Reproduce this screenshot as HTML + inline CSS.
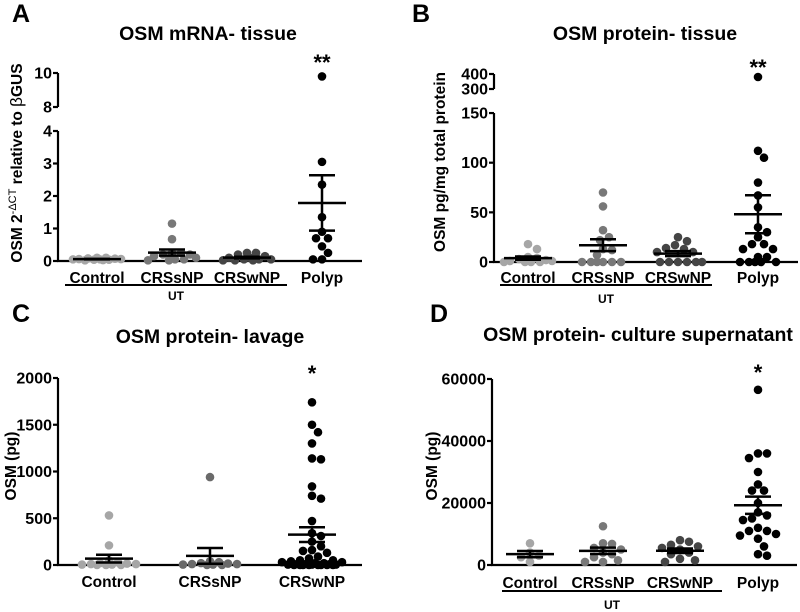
<!DOCTYPE html>
<html><head><meta charset="utf-8">
<style>
html,body{margin:0;padding:0;background:#fff;}
svg{display:block;font-family:"Liberation Sans",Arial,sans-serif;font-weight:bold;}
</style></head>
<body>
<svg id="fig" width="800" height="612" viewBox="0 0 800 612" xmlns="http://www.w3.org/2000/svg"></svg>
<script>
// ---------- data ----------
const catsABD = ["Control","CRSsNP","CRSwNP","Polyp"];
const catsC = ["Control","CRSsNP","CRSwNP"];
const colorsABD = ["#a6a6a6","#787878","#454545","#000000"];
const colorsC = ["#a6a6a6","#6a6a6a","#000000"];

const aControl = [0.1,0.08,0.07,0.06,0.05,0.05,0.04,0.04,0.03,0.1,0.06,0.02];
const aCRSsNP = [1.15,0.67,0.25,0.25,0.2,0.2,0.15,0.1,0.05,0.05,0.02,0.02];
const aCRSwNP = [0.25,0.25,0.2,0.15,0.1,0.1,0.05,0.05,0.05,0.02,0.02,0.02];
const aPolyp = [9.8,3.05,2.35,1.35,0.9,0.7,0.7,0.45,0.25,0.05,0.05];
const aTicksLow = [0,1,2,3,4];
const aTicksHigh = [8,10];

const bControl = [18,13,5,4,3,2,1,1,0,0,0,0];
const bCRSsNP = [70,56,32,25,22,13,12,7,0,0,0,0,0,0];
const bCRSwNP = [25,21,17,14,13,10,10,0,0,0,0,0,0];
const bPolyp = [380,112,105,80,67,55,35,30,25,18,18,13,13,5,5,0,0,0,0,0];
const bTicksLow = [0,50,100,150];
const bTicksHigh = [300,400];

const cControl = [530,210,50,30,20,15,10,10,5,5,0,0,0];
const cCRSsNP = [940,40,30,20,15,10,10,5,5,0,0];
const cCRSwNP = [1740,1500,1420,1300,1140,1130,840,740,710,470,340,310,250,200,160,150,130,90,70,50,50,40,30,30,20,20,10,10,10,5,5,5,0,0,0,0,0,0,0,0];
const cTicks = [0,500,1000,1500,2000];

const dControl = [7000,4000,3000,2500,1000];
const dCRSsNP = [12500,7000,6800,5500,5000,4000,3500,2500,1500,1000,1000];
const dCRSwNP = [8000,7500,6500,6000,5500,5000,4000,3500,2000,1500,1000];
const dPolyp = [56500,36000,36000,34500,30000,26000,24000,24000,20000,17000,16000,15000,14500,12000,11000,11000,10000,9500,8500,6000,3500,3000];
const dTicks = [0,20000,40000,60000];

// ---------- drawing ----------
const NS = "http://www.w3.org/2000/svg";
const svg = document.getElementById("fig");
function mk(tag, attrs, parent){
  const e = document.createElementNS(NS, tag);
  for (const k in attrs) e.setAttribute(k, attrs[k]);
  (parent||svg).appendChild(e);
  return e;
}
function line(g,x1,y1,x2,y2,w,name){
  const l = mk("line",{x1:x1,y1:y1,x2:x2,y2:y2,stroke:"#000","stroke-width":w||2},g);
  
  
  return l;
}
function text(g,x,y,s,size,anchor,name){
  const t = mk("text",{x:x,y:y,"font-size":size,"text-anchor":anchor||"middle",fill:"#000"},g);
  t.textContent = s;
  
  
  return t;
}
function beeswarm(ys, d, maxW){
  const placed = [];
  const order = ys.map((y,i)=>i).sort((a,b)=>ys[a]-ys[b]);
  const off = new Array(ys.length).fill(0);
  const cands=[0];
  for(let k=1;k*3<=maxW;k++){cands.push(k*3);cands.push(-k*3);}
  for (const i of order){
    let best=0,bestD=-1;
    for (const c of cands){
      let md=1e9;
      for (const p of placed){ const dx=p.x-c, dy=p.y-ys[i]; md=Math.min(md,Math.sqrt(dx*dx+dy*dy)); }
      if(md>=d){best=c;bestD=md;break;}
      if(md>bestD+0.5){bestD=md;best=c;}
    }
    off[i]=best;placed.push({x:best,y:ys[i]});
  }
  return off;
}
function drawPanel(p){
  const g = mk("g",{});
  
  
  text(g,p.letterX,p.letterY,p.letter,25,"start","panel-letter-"+p.letter.toLowerCase());
  text(g,p.titleX,p.titleY,p.title,19.5,"middle","panel-title");
  for (const seg of p.ySegs) line(g,p.ax,seg[0],p.ax,seg[1],2.2,"y-axis-line");
  line(g,p.ax-1,p.y0,p.axEnd,p.y0,2.2,"x-axis-line");
  for (const t of p.ticks){
    const y=p.scale(t);
    line(g,p.ax-5,y,p.ax,y,2.2,"y-tick");
    text(g,p.ax-6,y+5.5,String(t),16,"end","y-tick-label");
  }
  const yt = mk("text",{transform:`translate(${p.ytX},${p.ytY}) rotate(-90)`,"font-size":15.5,"text-anchor":"middle"},g);
  
  
  if (p.ytSup){
    const a=mk("tspan",{},yt); a.textContent=p.ytitle[0];
    const b=mk("tspan",{"baseline-shift":"super","font-size":11,"font-weight":"normal"},yt); b.textContent=p.ytitle[1];
    const c=mk("tspan",{},yt); c.textContent=p.ytitle[2];
    const d=mk("tspan",{"font-weight":"normal","font-size":17},yt); d.textContent=p.ytitle[3];
    const e=mk("tspan",{},yt); e.textContent=p.ytitle[4];
  } else yt.textContent=p.ytitle;
  p.groups.forEach((vals,gi)=>{
    const cx=p.xs[gi];
    text(g,cx,p.catY,p.cats[gi],15.5,"middle","category-label");
    const ys=vals.map(v=>p.scale(v));
    const offs=beeswarm(ys,8.4,p.maxW||24);
    vals.forEach((v,i)=>{
      const c=mk("circle",{cx:cx+offs[i],cy:ys[i],r:4.3,fill:p.colors[gi]},g);
      
      
    });
    const n=vals.length, mean=vals.reduce((a,b)=>a+b,0)/n;
    const sd=Math.sqrt(vals.reduce((a,b)=>a+(b-mean)*(b-mean),0)/(n-1));
    const sem=sd/Math.sqrt(n);
    const ym=p.scale(mean), yh=p.scale(mean+sem), yl=p.scale(Math.max(0,mean-sem));
    line(g,cx-24,ym,cx+24,ym,2.5,"mean-line");
    line(g,cx,yh,cx,yl,2.5,"sem-bar");
    line(g,cx-13,yh,cx+13,yh,2.5,"sem-cap-upper");
    line(g,cx-13,yl,cx+13,yl,2.5,"sem-cap-lower");
  });
  text(g,p.xs[p.sigIdx],p.sigY,p.sig,22,"middle","significance-stars");
  if (p.ut){
    line(g,p.ut[0],p.ut[2],p.ut[1],p.ut[2],2,"ut-bracket-line");
    text(g,(p.ut[0]+p.ut[1])/2,p.ut[3],"UT",12,"middle","ut-label");
  }
}
const scaleA = v => v<=4 ? 261 - v*32.5 : 107 - (v-8)*17;
const scaleB = v => v<=150 ? 262 - v*0.993 : 89 - (v-300)*0.15;
const scaleC = v => 565 - v*(187/2000);
const scaleD = v => 565 - v*(186/60000);

drawPanel({name:"panel-a",letter:"A",letterX:12,letterY:22,title:"OSM mRNA- tissue",titleX:208,titleY:40,
  ax:58,axEnd:362,y0:261,ySegs:[[262,131],[107,73]],ticks:aTicksLow.concat(aTicksHigh),scale:scaleA,
  ytX:22,ytY:163,ytSup:true,ytitle:["OSM 2","-\u0394CT"," relative to ","\u03B2","GUS"],
  groups:[aControl,aCRSsNP,aCRSwNP,aPolyp],cats:catsABD,colors:colorsABD,xs:[97,172,247,322],catY:283,
  sigIdx:3,sig:"**",sigY:70,ut:[65,287,285,300]});
drawPanel({name:"panel-b",letter:"B",letterX:412,letterY:22,title:"OSM protein- tissue",titleX:645,titleY:40,
  ax:494,axEnd:798,y0:262,ySegs:[[263,113],[89,74]],ticks:bTicksLow.concat(bTicksHigh),scale:scaleB,
  ytX:445,ytY:162,ytitle:"OSM pg/mg total protein",
  groups:[bControl,bCRSsNP,bCRSwNP,bPolyp],cats:catsABD,colors:colorsABD,xs:[528,603,678,758],catY:283,
  sigIdx:3,sig:"**",sigY:75,ut:[500,712,285,303]});
drawPanel({name:"panel-c",letter:"C",letterX:12,letterY:322,title:"OSM protein- lavage",titleX:210,titleY:343,
  ax:58,axEnd:362,y0:565,ySegs:[[566,378]],ticks:cTicks,scale:scaleC,
  ytX:16,ytY:466,ytitle:"OSM (pg)",maxW:30,
  groups:[cControl,cCRSsNP,cCRSwNP],cats:catsC,colors:colorsC,xs:[109,210,312],catY:587,
  sigIdx:2,sig:"*",sigY:381});
drawPanel({name:"panel-d",letter:"D",letterX:430,letterY:322,title:"OSM protein- culture supernatant",titleX:638,titleY:341,
  ax:492,axEnd:797,y0:565,ySegs:[[566,379]],ticks:dTicks,scale:scaleD,
  ytX:437,ytY:466,ytitle:"OSM (pg)",
  groups:[dControl,dCRSsNP,dCRSwNP,dPolyp],cats:catsABD,colors:colorsABD,xs:[530,603,680,758],catY:588,
  sigIdx:3,sig:"*",sigY:380,ut:[502,722,591,609]});
</script>
</body></html>
